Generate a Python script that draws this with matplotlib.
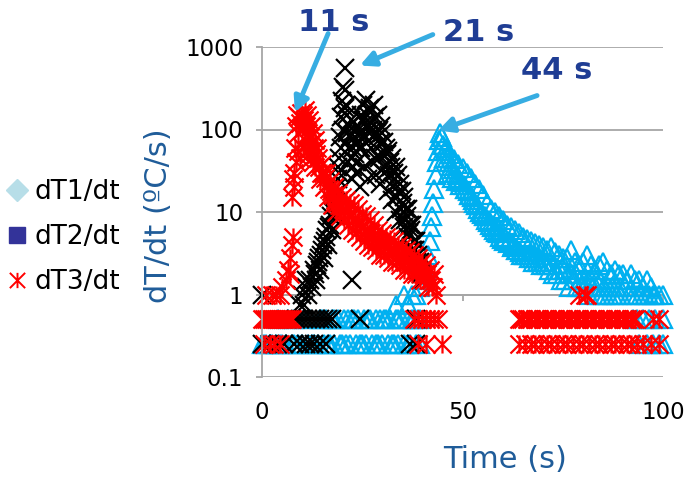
import numpy as np
import matplotlib.pyplot as plt
from matplotlib.path import Path
from matplotlib.lines import Line2D
from matplotlib.ticker import NullLocator

# dT1/dt : quantised baseline rows, then the rise at ~44 s and the slow decay
t1 = [0, 1, 2, 3.5, 5, 6, 7.5, 9, 10, 11.5, 13, 14, 15.5, 17, 18, 19.5, 21, 22, 23.5, 25,
      26, 27.5, 29, 30, 31.5, 33, 34, 35.5, 37, 38.5, 94, 96, 97.5, 99, 100,
      0.5, 2.5, 4.5, 8, 12.5, 16.5, 20, 24.5, 28.5, 32.5, 36.5, 39.5,
      4, 6.5, 8, 10.5, 12, 14.5, 16, 17.5, 19, 20.5, 22.5, 24, 25.5, 27, 28.5, 30.5, 32,
      33.5, 35, 36.5, 38, 39.5, 92.5, 93.5, 95, 96.5, 98, 100,
      15, 18, 21.5, 23, 26.5, 29.5, 31, 34, 37.5, 39,
      33.5, 35.5, 36.5, 37.5, 38.5, 39.5, 40.5, 41, 41.5, 41.8, 42.1, 42.4, 42.7, 43, 43.3,
      43.6, 43.9, 44.1, 44.4,
      45, 45.5, 46, 46.5, 47, 47.5, 48, 48.5, 49, 49.5, 50, 50.5, 51, 51.5, 52, 52.5, 53,
      53.5, 54, 54.5, 55, 55.5, 56, 56.5, 57, 57.5, 58, 58.5, 59, 59.5, 60, 60.5, 61, 61.5,
      62, 62.5, 63, 63.5, 64, 64.5, 65, 65.5, 66, 66.5, 67, 67.5, 68, 68.5, 69, 69.5, 70,
      70.5, 71, 71.5, 72, 72.5, 73, 73.5, 74, 74.5, 75, 75.5, 76, 76.5, 77, 77.5, 78, 78.5,
      79, 79.5, 80, 80.5, 81, 81.5, 82, 82.5, 83, 83.5, 84, 84.5, 85, 85.5, 86, 86.5, 87,
      87.5, 88, 88.5, 89, 89.5, 90, 90.5, 91, 91.5, 92, 92.5, 93, 93.5, 94, 94.5, 95, 95.5,
      96, 96.5, 97, 97.5, 98, 99, 100,
      45.25, 45.75, 46.25, 46.75, 47.25, 47.75, 48.25, 48.75, 49.25, 49.75, 50.25, 50.75,
      51.25, 51.75, 52.25, 52.75, 53.25, 53.75, 54.25, 54.75, 55.25, 55.75, 56.25, 56.75,
      57.25, 57.75, 58.25, 58.75, 59.25, 59.75, 60.25, 61.25, 62.25, 63.25, 64.25, 65.25,
      66.25, 67.25, 68.25, 69.25, 70.25, 71.25, 72.25, 73.25, 74.25, 75.25, 76.25, 77.25,
      78.25, 79.25, 80.25, 81.25, 82.25, 83.25, 84.25, 85.25, 86.25, 87.25, 88.25, 89.25]
v1 = [0.25] * 47 + [0.5] * 38 + \
     [0.75, 1.0, 0.75, 1.0, 1.0, 1.25, 1.5, 2, 3, 4.5, 6.5, 9, 13, 19, 28, 40, 55, 75, 90,
      80, 45, 60, 30, 50, 26, 44, 24, 38, 21, 34, 19, 30, 16, 26, 14, 22, 12, 19, 10, 16,
      9, 13, 8, 11, 7, 10, 6.5, 9, 6, 8, 5, 7, 4.5, 6.5, 4, 6, 3.5, 5.5, 3, 5, 3, 4.75,
      2.75, 4.5, 2.5, 4.25, 2.5, 4, 2.25, 3.75, 2.25, 3.5, 2, 3.75, 1.75, 3.25, 1.75, 3,
      1.5, 2.75, 1.5, 2.75, 1.25, 3.5, 1.5, 2.5, 1.25, 2.25, 1.25, 2.5, 1.25, 3, 1.0, 2.25,
      1.25, 2, 1.0, 2.25, 1.0, 2.5, 1.0, 2, 1.0, 1.75, 1.0, 2, 1.0, 1.75, 1.0, 1.75, 1.25,
      1.5, 1.0, 1.75, 1.0, 1.5, 1.0, 1.5, 1.0, 1.25, 1.0, 1.5, 1.0, 1.25, 1.0, 1.0, 1.0,
      1.0,
      65, 55, 45, 40, 36, 33, 30, 28, 25, 23, 21, 19, 18, 16, 15, 13, 12, 11, 10, 9.5, 9,
      8, 7.5, 7, 6.5, 6, 5.75, 5.5, 5, 4.75, 4.5, 4.25, 3.75, 3.5, 3.25, 3, 3, 2.75, 2.75,
      2.5, 2.5, 2.25, 2.25, 2, 2, 2, 1.75, 1.75, 1.75, 1.5, 1.5, 1.5, 1.5, 1.5, 1.5, 1.25,
      1.25, 1.25, 1.25, 1.25]

# dT2/dt : baseline rows, steep rise to the 21 s peak, second lobe, decay
t2 = [0, 2, 4, 5.5, 8, 9.5, 11, 12, 13, 14.5, 16, 37, 38.5,
      8.5, 9.5, 10.5, 11.5, 12.5, 13.5, 14.5, 15.5, 16.5, 17.5, 24.5, 38.5,
      0, 11, 22.5,
      9.5, 10, 10.5, 11, 11.5, 12, 12.5, 13, 13.5, 14, 14.5, 15, 15.5, 16, 16.5, 17, 17.5,
      18, 18.5, 19, 19.2, 19.5, 19.8, 20, 20.3, 20.6, 20.8, 21, 21.3, 21.6, 22, 22.3, 22.6,
      23, 23.3, 23.6, 24, 24.3, 24.6, 25, 25.3, 25.6, 26, 26.3, 26.6, 27, 27.3, 27.6, 28,
      28.3, 28.6, 29, 29.3, 29.6, 30, 30.5, 31, 31.5, 32, 32.5, 33, 33.5, 34, 34.5, 35,
      35.5, 36, 36.5, 37, 37.5, 38, 38.5, 39, 39.5, 40, 40.5,
      21.5, 22.5, 23.5, 24.5, 25.5, 26.5, 27.5, 28.5, 29.5, 30.5, 31.5, 32.5, 33.5, 34.5,
      35.5, 36.5, 37.5, 38.5,
      19.75, 20.25, 20.75, 21.25, 21.75, 22.25, 22.75, 23.25, 23.75, 24.25, 24.75, 25.25,
      25.75, 26.25, 26.75, 27.25, 27.75, 28.25, 28.75, 29.25, 29.75, 30.25, 30.75, 31.25,
      31.75, 32.25, 32.75, 33.25, 33.75, 34.25, 34.75, 35.25, 35.75, 36.25, 36.75, 37.25,
      37.75, 38.25, 38.75, 39.25, 39.75,
      13.25, 13.75, 14.25, 14.75, 15.25, 15.75, 16.25, 16.75, 17.25, 17.75, 18.25, 18.75,
      18.9, 19.1]
v2 = [0.25] * 13 + [0.5] * 12 + [1.0, 1.5, 1.5] + \
     [0.75, 1.0, 0.75, 1.25, 1.0, 1.5, 1.25, 2.0, 1.5, 2.5, 2.0, 3.5, 2.75, 5, 4, 7, 6,
      12, 9, 25, 45, 80, 140, 220, 330, 550, 300, 200, 150, 110, 80, 130, 60, 95, 50, 70,
      110, 60, 150, 90, 200, 120, 230, 150, 100, 180, 120, 80, 200, 140, 90, 150, 100, 110,
      90, 70, 60, 55, 40, 45, 30, 35, 28, 22, 18, 15, 11, 11, 7, 7, 4.5, 4.5, 3, 2.5, 2,
      1.5,
      40, 25, 30, 20, 35, 25, 40, 28, 22, 30, 18, 14, 10, 8, 6.5, 5, 3.5, 2.5,
      60, 100, 180, 90, 60, 45, 35, 80, 40, 90, 60, 130, 80, 110, 170, 60, 100, 45, 80, 45,
      70, 50, 35, 50, 28, 35, 20, 25, 15, 18, 11, 13, 8, 9, 5.5, 6, 3.5, 3.5, 2.5, 2, 1.75,
      1.75, 2.25, 2.75, 3, 4, 4.5, 6, 6.5, 9, 10, 16, 20, 35, 30]

# dT3/dt : baseline rows, spike at ~11 s, long decay, late baseline
t3 = [0, 0.5, 1, 1.5, 2, 2.5, 3, 3.5, 4, 4.5, 5, 5.5, 6, 6.5, 7, 7.5, 38, 39, 40, 41, 42,
      43, 44, 64, 65, 66, 67, 68, 69, 70, 71, 72, 73, 74, 75, 76, 77, 78, 79, 80, 81, 82,
      83, 84, 85, 86, 87, 88, 89, 90, 91, 92, 93, 64.5, 66.5, 68.5, 70.5, 72.5, 74.5, 76.5,
      78.5, 80.5, 82.5, 84.5, 86.5, 88.5, 90.5, 92.5, 97.5, 99,
      0.5, 2, 3, 4.5, 39, 41, 45, 64, 65.5, 67, 68, 69.5, 71, 72, 73.5, 75, 76, 77.5, 79,
      80, 81.5, 83, 84, 85.5, 87, 88, 89.5, 91, 92, 93.5, 95, 97, 99,
      1, 2.5, 3.5, 4.5, 5, 79, 80.5, 81,
      6, 6.5, 7, 7, 7.5, 7.8,
      8, 8.25, 8.5, 8.75, 9, 9.25, 9.5, 9.75, 10, 10.25, 10.5, 10.75, 11, 11.25, 11.5,
      11.75, 12, 12.25, 12.5, 12.75, 13, 13.25, 13.5, 13.75,
      7.5, 7.75, 8.1, 8.6, 9.1, 9.6, 10.1, 10.6, 11.1, 11.6, 12.1, 12.6, 13.1,
      14, 14.5, 15, 15.5, 16, 16.5, 17, 17.5, 18, 18.5, 19, 19.5, 20, 20.5, 21, 21.5, 22,
      22.5, 23, 23.5, 24, 24.5, 25, 25.5, 26, 26.5, 27, 27.5, 28, 28.5, 29, 29.5, 30, 30.5,
      31, 31.5, 32, 32.5, 33, 33.5, 34, 34.5, 35, 35.5, 36, 36.5, 37, 37.5, 38, 38.5, 39,
      39.5, 40, 40.5, 41, 41.5, 42, 42.5, 43, 43.5,
      15.25, 17.25, 19.25, 21.25, 23.25, 25.25, 27.25, 29.25, 31.25, 33.25, 35.25, 37.25,
      39.25, 41.25,
      14.25, 14.75, 15.75, 16.25, 16.75, 17.75, 18.25, 18.75, 19.75, 20.25, 20.75, 21.75,
      22.25, 22.75, 23.75, 24.25, 24.75, 25.75, 26.25, 26.75, 27.75, 28.25, 28.75, 29.75,
      30.25, 30.75, 31.75, 32.25, 32.75, 33.75, 34.25, 34.75, 35.75, 36.25, 36.75, 37.75,
      38.25, 38.75, 39.75, 40.25, 40.75, 41.75, 42.25, 42.75]
v3 = [0.5] * 70 + [0.25] * 33 + [1.0, 1.0, 1.0, 1.0, 1.25, 1.0, 1.0, 1.0] + \
     [1.5, 2.0, 1.75, 2.75, 4, 5] + \
     [20, 60, 110, 150, 90, 140, 120, 160, 100, 150, 130, 170, 110, 150, 90, 130, 80, 110,
      70, 90, 60, 75, 50, 60,
      15, 25, 30, 40, 55, 45, 60, 75, 55, 50, 45, 40, 35] + \
     [45, 25, 38, 20, 30, 15, 24, 12, 20, 10, 17, 9, 15, 8, 14, 7, 13, 6, 12, 5.5, 11, 5,
      9.5, 4.5, 9, 4, 8, 3.75, 7, 3.5, 6, 3, 5.5, 3, 5, 2.75, 4.75, 2.5, 4.5, 2.5, 4, 2.25,
      3.75, 2, 3.5, 2, 3.25, 1.75, 3, 1.75, 2.75, 1.5, 2.5, 1.5, 2.25, 1.25, 2, 1.25, 1.75,
      1.0] + \
     [30, 18, 12, 10, 8.5, 6.5, 5.5, 4.5, 3.75, 3.5, 2.75, 2.5, 2.25, 1.75] + \
     [35, 30, 26, 22, 19, 16, 14, 13, 12, 11, 10.5, 9.5, 9, 8, 7.5, 7, 6.5, 6, 5.75, 5.5,
      5, 4.75, 4.5, 4.25, 4, 3.75, 3.5, 3.5, 3.25, 3, 3, 2.75, 2.5, 2.5, 2.25, 2.25, 2, 2,
      2, 1.75, 1.75, 1.5, 1.5, 1.25]

series_names = ['dT1/dt', 'dT2/dt', 'dT3/dt']
yticks = [0.1, 1, 10, 100, 1000]
ylabels = ['0.1', '1', '10', '100', '1000']
xticks = [0, 50, 100]

blue = '#00B0F0'
gray = '#A6A6A6'
label_blue = '#1F5C99'
note_blue = '#1F3D94'
arrow_blue = '#37ADE2'

# asterisk marker: an x with a vertical bar through it
asterisk = Path([(-0.5, -0.5), (0.5, 0.5), (-0.5, 0.5), (0.5, -0.5), (0, -0.5), (0, 0.5)],
                [Path.MOVETO, Path.LINETO] * 3)

fig = plt.figure(figsize=(6.92, 4.82), dpi=100)
ax = fig.add_axes([262 / 692, 105 / 482, 401 / 692, 330 / 482])

ax.plot(t1, v1, ls='none', marker='^', ms=13, mfc='none', mec=blue, mew=1.6, clip_on=False)
ax.plot(t2, v2, ls='none', marker='x', ms=13, color='k', mew=1.6, clip_on=False)
ax.plot(t3, v3, ls='none', marker=asterisk, ms=13, mfc='none', mec='red', mew=1.6,
        clip_on=False)

ax.set_yscale('log')
ax.set_ylim(0.1, 1000)
ax.set_xlim(0, 100)
ax.set_yticks(yticks, ylabels)
ax.yaxis.set_minor_locator(NullLocator())
ax.set_xticks(xticks)
ax.yaxis.grid(True, color=gray, lw=1.3)
ax.set_axisbelow(True)

for s in ['top', 'right', 'bottom']:
    ax.spines[s].set_visible(False)
ax.spines['left'].set_color(gray)
ax.spines['left'].set_linewidth(1.3)
ax.tick_params(axis='y', length=4.5, width=1.3, color=gray, labelsize=16.5, pad=9)
ax.tick_params(axis='x', length=0, labelsize=16.5, pad=17)

# horizontal axis line crosses at 1
sec = ax.secondary_xaxis(0.25)
sec.set_xticks(xticks)
sec.tick_params(length=4.5, width=1.3, color=gray, labelbottom=False, labeltop=False)
sec.spines['bottom'].set_color(gray)
sec.spines['bottom'].set_linewidth(1.3)
sec.spines['top'].set_visible(False)

ax.set_xlabel('Time (s)', fontsize=22, color=label_blue)
ax.xaxis.label.set_va('center')
ax.xaxis.set_label_coords(0.606, -0.2515)
ax.set_ylabel('dT/dt (ºC/s)', fontsize=22, color=label_blue)
ax.yaxis.label.set_va('center')
ax.yaxis.set_label_coords(-0.259, 0.488)

# peak annotations
arrow = dict(arrowstyle='-|>', color=arrow_blue, lw=3.5, mutation_scale=22, shrinkA=0, shrinkB=0)
ax.annotate('', xy=(8.2, 161), xytext=(16.5, 1458), arrowprops=arrow, annotation_clip=False)
ax.annotate('', xy=(24.4, 597), xytext=(42.6, 1415), arrowprops=arrow, annotation_clip=False)
ax.annotate('', xy=(43.9, 97), xytext=(68.6, 258), arrowprops=arrow, annotation_clip=False)
for x, y, s in [(18.0, 1982, '11 s'), (53.9, 1500, '21 s'), (73.6, 519, '44 s')]:
    ax.text(x, y, s, fontsize=22, fontweight='bold', color=note_blue, ha='center',
            va='center', clip_on=False)

handles = [Line2D([], [], ls='none', marker='D', ms=11, mfc='#B7DEE8', mec='#B7DEE8'),
           Line2D([], [], ls='none', marker='s', ms=12, mfc='#333399', mec='#333399'),
           Line2D([], [], ls='none', marker=asterisk, ms=11, mfc='none', mec='red', mew=1.4)]
fig.legend(handles, series_names, loc='center left', bbox_to_anchor=(0.006, 0.508),
           frameon=False, fontsize=19, handlelength=1.0, handletextpad=0.15,
           labelspacing=0.72, borderaxespad=0, borderpad=0)

fig.savefig('out.png', dpi=100)
